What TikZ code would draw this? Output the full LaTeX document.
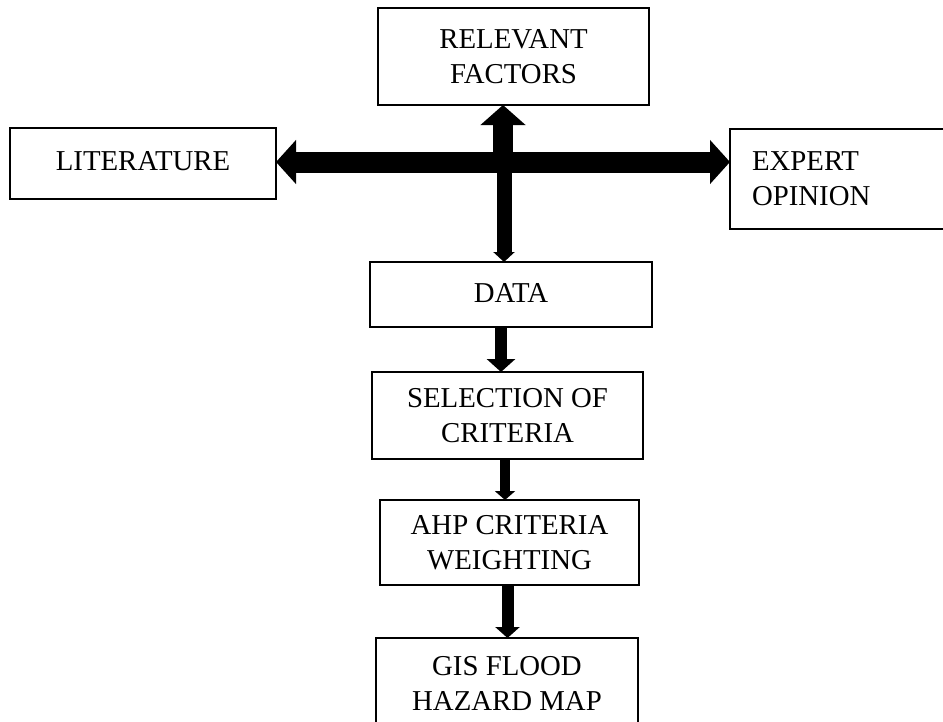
\documentclass[tikz,border=0pt]{standalone}
\usepackage{fontspec}
\setmainfont{Liberation Serif}
\usetikzlibrary{arrows.meta}
\begin{document}
\begin{tikzpicture}[x=1pt,y=-1pt,
  box/.style={draw=black, line width=2.2pt, rectangle, inner sep=0pt, outer sep=0pt,
    align=center, font=\fontsize{28.8}{35}\selectfont},
  blk/.style={line width=#1, line cap=butt},
]
\useasboundingbox (0,0) rectangle (943,721);
\clip (0,0) rectangle (943,721);
% boxes
\node[box, minimum width=271pt, minimum height=97pt] (rf) at (513.5,56.5) {RELEVANT\\FACTORS};
\node[box, minimum width=266pt, minimum height=71pt] (lit) at (143,163.5) {\raisebox{6pt}{LITERATURE}};
\node[box, minimum width=230pt, minimum height=100pt, align=left, text width=186pt] (exp) at (845,179) {EXPERT\\OPINION};
\node[box, minimum width=282pt, minimum height=65pt] (data) at (511,294.5) {\raisebox{4pt}{DATA}};
\node[box, minimum width=271pt, minimum height=87pt] (sel) at (507.5,415.5) {SELECTION OF\\CRITERIA};
\node[box, minimum width=259pt, minimum height=85pt] (ahp) at (509.5,542.5) {AHP CRITERIA\\WEIGHTING};
\node[box, minimum width=262pt, minimum height=91pt] (gis) at (507,683.5) {GIS FLOOD\\HAZARD MAP};
% hub of the cross
\coordinate (hub) at (503,162);
% horizontal double arrow
\draw[blk=21pt, {Triangle[width=43pt,length=20pt]}-{Triangle[width=43pt,length=20pt]}]
  (lit.east |- hub) -- (exp.west |- hub);
% up arrow
\draw[blk=20pt, -{Triangle[width=44pt,length=20pt]}] (hub) -- (rf.south -| hub);
% thin down arrow
\draw[blk=15pt, -{Triangle[width=21pt,length=10pt]}] (504,170) -- (data.north -| 504,0);
% data -> selection
\draw[blk=12pt, -{Triangle[width=28pt,length=13pt]}] (data.south -| 501,0) -- (sel.north -| 501,0);
% selection -> ahp
\draw[blk=10pt, -{Triangle[width=20pt,length=9pt]}] (sel.south -| 505,0) -- (ahp.north -| 505,0);
% ahp -> gis
\draw[blk=12pt, -{Triangle[width=24pt,length=11pt]}] (ahp.south -| 507.5,0) -- (gis.north -| 507.5,0);
\end{tikzpicture}
\end{document}
